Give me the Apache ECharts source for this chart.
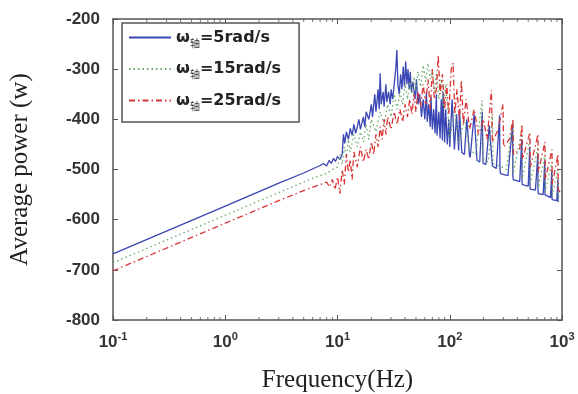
<!DOCTYPE html>
<html><head><meta charset="utf-8">
<script src="https://cdn.jsdelivr.net/npm/echarts@6/dist/echarts.min.js"></script>
<style>html,body{margin:0;padding:0;background:#fff}#c{width:578px;height:394px}</style>
</head><body><div id="c"></div>
<script>
var seriesNames = ['ω轴=5rad/s', 'ω轴=15rad/s', 'ω轴=25rad/s'];
var yTicks = [-800, -700, -600, -500, -400, -300, -200];
var xDecades = [0.1, 1, 10, 100, 1000];

var freqBlue = [0.1,1,3,5,7,7.5,8,8.4,8.8,9.2,9.6,10,10.5,11,11.3,11.6,12,12.5,13,13.5,14,14.5,15,15.5,16,17,17.5,18,19,20,20.5,21.5,22,23,23.5,24,24.5,25.5,26,27,27.5,28.5,29.5,30,31,32,33,33.8,34.5,35.5,36.5,37.5,38.5,39.5,40.5,41.5,42.5,43.5,44.5,45.5,47,49,50.5,52,54,56,58,60,62,63,65,67,68,70,72,74,76,77,80,82,84,86,87,90,92,95,98,100,105,110,115,120,122,128,135,142,150,152,165,175,185,195,198,210,225,240,243,260,278,280,283,330,363,365,368,420,438,440,443,500,516,518,522,580,609,611,615,680,703,705,710,790,812,814,818,900,919,921,925,1000];
var powBlue = [-668,-573,-527,-507,-492,-488,-493,-482,-488,-478,-484,-474,-480,-470,-430,-448,-425,-440,-418,-432,-410,-428,-415,-400,-420,-395,-415,-385,-400,-370,-395,-350,-385,-340,-380,-308,-370,-345,-375,-330,-365,-345,-370,-340,-360,-330,-300,-262,-330,-350,-310,-340,-295,-335,-285,-330,-300,-340,-305,-345,-325,-360,-320,-370,-350,-395,-360,-400,-345,-405,-370,-415,-355,-420,-380,-428,-350,-432,-385,-438,-360,-442,-345,-446,-380,-450,-400,-455,-360,-460,-390,-462,-380,-466,-470,-400,-472,-476,-390,-482,-485,-385,-488,-490,-412,-493,-496,-498,-392,-498,-508,-512,-410,-512,-520,-524,-440,-524,-530,-533,-455,-533,-539,-541,-470,-541,-548,-550,-482,-550,-553,-556,-500,-556,-560,-562,-520,-562,-565];

var freqGreen = [0.1,1,3,5,7,8,9,10,10.5,11,11.5,12,12.5,13,14,15,16,17,18,19,20,22,24,26,28,30,32,34,36,38,40,42,44,46,48,50,52,55,58,61,64,67,70,73,76,80,84,88,92,97,100,110,120,135,150,170,194,197,220,240,243,290,320,365,368,440,443,518,522,611,615,705,710,814,818,921,925,1000];
var powGreen = [-686,-591,-546,-525,-512,-508,-500,-495,-470,-490,-455,-475,-440,-465,-430,-455,-425,-445,-410,-440,-400,-425,-385,-410,-370,-395,-350,-380,-345,-370,-330,-360,-325,-350,-315,-345,-305,-335,-292,-325,-288,-320,-300,-345,-310,-360,-320,-380,-330,-395,-440,-380,-450,-400,-460,-470,-362,-478,-485,-390,-488,-495,-500,-404,-508,-420,-518,-440,-528,-455,-536,-470,-544,-485,-550,-500,-554,-557];

var freqRed = [0.1,1,3,5,7,8,8.5,9,9.5,10,10.5,11,11.5,12,12.5,13,13.5,14,15,16,17,18,19,20,21,22,23,24,25,26,27,28,30,32,34,36,38,40,42,44,46,48,50,52,55,58,61,64,67,70,73,76,79,82,86,90,94,98,103,107,111,116,122,127,132,140,150,165,180,200,215,235,240,270,298,302,340,365,370,420,440,445,518,522,611,615,705,710,814,818,921,925,1000];
var powRed = [-702,-607,-562,-542,-530,-525,-535,-520,-540,-515,-548,-500,-530,-470,-505,-480,-520,-465,-495,-455,-485,-460,-480,-445,-470,-430,-455,-415,-440,-400,-430,-395,-420,-385,-410,-380,-405,-370,-395,-360,-390,-350,-385,-345,-375,-330,-370,-320,-380,-300,-360,-340,-272,-350,-310,-380,-330,-390,-300,-288,-390,-340,-400,-322,-410,-360,-420,-380,-430,-400,-440,-342,-445,-420,-370,-455,-440,-400,-470,-460,-410,-480,-426,-495,-430,-505,-445,-520,-460,-530,-470,-540,-550];

function zip(f, p) { return f.map(function (v, i) { return [v, p[i]]; }); }

var minorBottom = [], minorTop = [];
xDecades.slice(0, 4).forEach(function (d) {
  for (var k = 2; k <= 9; k++) { minorBottom.push([k * d, -800]); minorTop.push([k * d, -200]); }
});

var chart = echarts.init(document.getElementById('c'));
var axisCol = '#555';
var tickFont = 'Liberation Sans, Arial';
chart.setOption({
  animation: false,
  backgroundColor: '#fff',
  grid: { left: 113, right: 16, top: 19, bottom: 74, containLabel: false, outerBoundsMode: 'none' },
  legend: {
    left: 122, top: 23, orient: 'vertical',
    data: seriesNames,
    itemWidth: 42, itemHeight: 14, itemGap: 10.5,
    padding: [4, 18, 11, 6],
    borderColor: '#555', borderWidth: 1.5, backgroundColor: '#fff',
    itemStyle: { opacity: 0 },
    formatter: function (n) {
      return '{a|ω}{s|轴}{a|' + n.replace('ω轴', '') + '}';
    },
    textStyle: {
      rich: {
        a: { fontFamily: 'DejaVu Sans', fontWeight: 'bold', fontSize: 16, color: '#222', lineHeight: 22 },
        s: { fontFamily: 'Noto Sans CJK SC', fontSize: 10, color: '#333', padding: [11, 0, 0, 0], lineHeight: 22 }
      }
    }
  },
  xAxis: [{
    type: 'log', logBase: 10, min: 0.1, max: 1000,
    name: 'Frequency(Hz)', nameLocation: 'middle', nameGap: 48,
    nameTextStyle: { fontFamily: 'Liberation Serif, Times New Roman', fontSize: 25, color: '#222' },
    axisLine: { show: true, lineStyle: { color: axisCol, width: 1.5 } },
    axisTick: { show: true, inside: true, length: 5, lineStyle: { color: axisCol } },
    splitLine: { show: false },
    axisLabel: {
      margin: 11,
      formatter: function (v) { var e = Math.round(Math.log10(v)); return '{b|10}{p|' + e + '}'; },
      rich: {
        b: { fontFamily: tickFont, fontWeight: 'bold', fontSize: 17, color: '#333' },
        p: { fontFamily: tickFont, fontWeight: 'bold', fontSize: 11, color: '#333', padding: [0, 0, 11, 0] }
      }
    }
  }, {
    type: 'log', logBase: 10, min: 0.1, max: 1000, position: 'top',
    axisLine: { show: true, lineStyle: { color: axisCol, width: 1.5 } },
    axisTick: { show: true, inside: true, length: 5, lineStyle: { color: axisCol } },
    axisLabel: { show: false }, splitLine: { show: false }
  }],
  yAxis: [{
    type: 'value', min: -800, max: -200, interval: 100,
    name: 'Average power (w)', nameLocation: 'middle', nameGap: 80,
    nameTextStyle: { fontFamily: 'Liberation Serif, Times New Roman', fontSize: 25, color: '#222' },
    axisLine: { show: true, lineStyle: { color: axisCol, width: 1.5 } },
    axisTick: { show: true, inside: true, length: 5, lineStyle: { color: axisCol } },
    splitLine: { show: false },
    axisLabel: { margin: 13, fontFamily: tickFont, fontWeight: 'bold', fontSize: 17, color: '#333' }
  }, {
    type: 'value', min: -800, max: -200, interval: 100, position: 'right',
    axisLine: { show: true, lineStyle: { color: axisCol, width: 1.5 } },
    axisTick: { show: true, inside: true, length: 5, lineStyle: { color: axisCol } },
    axisLabel: { show: false }, splitLine: { show: false }
  }],
  series: [{
    name: seriesNames[0], type: 'line', data: zip(freqBlue, powBlue), symbol: 'none',
    lineStyle: { color: '#3a46b4', width: 1.3 }, itemStyle: { color: '#3a46b4' }
  }, {
    name: seriesNames[1], type: 'line', data: zip(freqGreen, powGreen), symbol: 'none',
    lineStyle: { color: '#68a868', width: 1.3, type: [1.5, 3] }, itemStyle: { color: '#68a868' }
  }, {
    name: seriesNames[2], type: 'line', data: zip(freqRed, powRed), symbol: 'none',
    lineStyle: { color: '#d83434', width: 1.3, type: [6, 3, 1.5, 3] }, itemStyle: { color: '#d83434' }
  }, {
    type: 'scatter', data: minorBottom, symbol: 'rect', symbolSize: [1, 3], symbolOffset: [0, -1.5],
    itemStyle: { color: axisCol }, silent: true, z: 5
  }, {
    type: 'scatter', data: minorTop, symbol: 'rect', symbolSize: [1, 3], symbolOffset: [0, 1.5],
    itemStyle: { color: axisCol }, silent: true, z: 5
  }]
});
</script></body></html>
